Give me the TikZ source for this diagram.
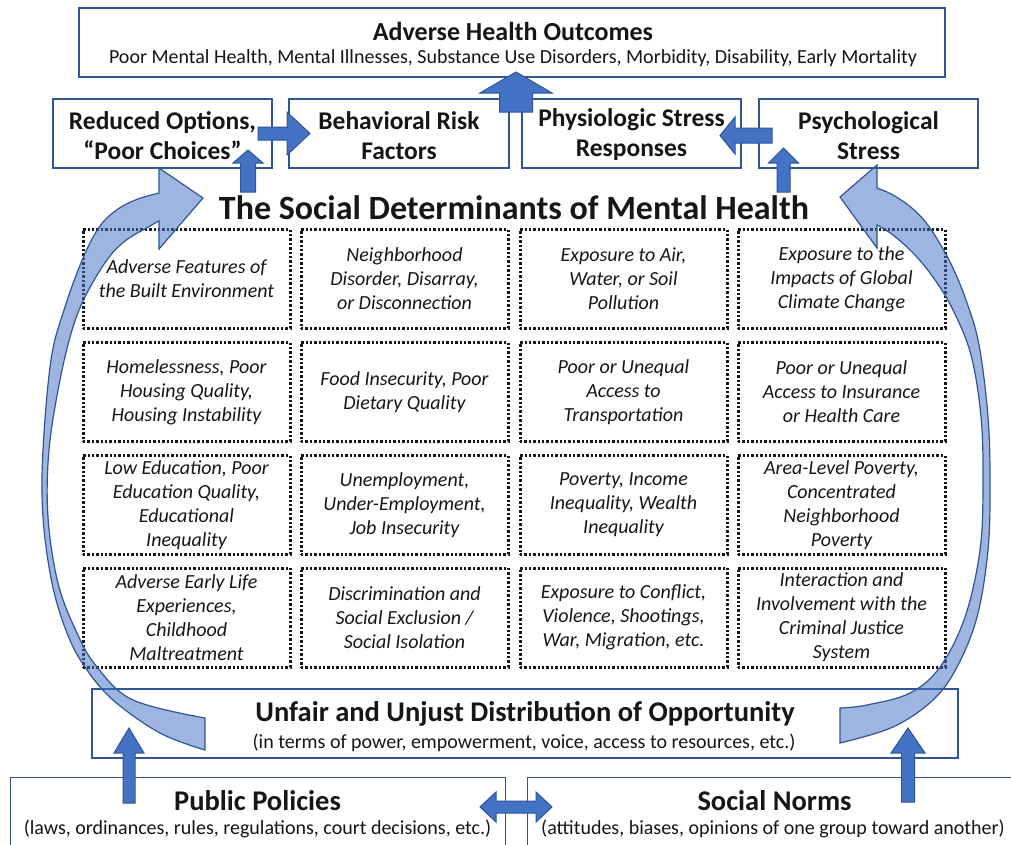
\documentclass[tikz,border=0pt]{standalone}
\usepackage{fontspec}
\setmainfont{Carlito}
\usetikzlibrary{calc}

\definecolor{boxline}{RGB}{47,85,151}
\definecolor{arrowblue}{RGB}{68,114,196}
\definecolor{arrowline}{RGB}{47,85,151}
\definecolor{ink}{RGB}{22,22,22}

\newcommand\detfont{\fontsize{20}{24}\selectfont\itshape}
\newcommand\headfont{\fontsize{25.5}{30}\selectfont\bfseries}
\newcommand\outheadfont{\fontsize{26}{30}\selectfont\bfseries}
\newcommand\bigheadfont{\fontsize{28.5}{32}\selectfont\bfseries}
\newcommand\subfont{\fontsize{20}{24}\selectfont}

% straight block arrow: #1 tail, #2 tip, #3 shaft half width, #4 head half width, #5 head length
\newcommand\blockarrow[5]{%
  \coordinate (ba-b) at ($(#2)!#5!(#1)$);
  \filldraw[barrow] ($(#1)!#3!-90:(#2)$) -- ($(ba-b)!#3!90:(#1)$) -- ($(ba-b)!#4!90:(#1)$)
    -- (#2) -- ($(ba-b)!#4!-90:(#1)$) -- ($(ba-b)!#3!-90:(#1)$) -- ($(#1)!#3!90:(#2)$) -- cycle;
}
% two-headed block arrow: #1 and #2 tips, #3 shaft half width, #4 head half width, #5 head length
\newcommand\twoheadarrow[5]{%
  \coordinate (ba-l) at ($(#1)!#5!(#2)$);
  \coordinate (ba-r) at ($(#2)!#5!(#1)$);
  \filldraw[barrow] (#1) -- ($(ba-l)!#4!90:(#2)$) -- ($(ba-l)!#3!90:(#2)$) -- ($(ba-r)!#3!-90:(#1)$)
    -- ($(ba-r)!#4!-90:(#1)$) -- (#2) -- ($(ba-r)!#4!90:(#1)$) -- ($(ba-r)!#3!90:(#1)$)
    -- ($(ba-l)!#3!-90:(#2)$) -- ($(ba-l)!#4!-90:(#2)$) -- cycle;
}

\tikzset{
  bluebox/.style={draw=boxline, line width=1.4pt, fill=white, inner sep=0pt},
  factor/.style={bluebox, minimum width=219pt, minimum height=69pt},
  factortext/.style={inner sep=0pt, align=center, font=\headfont, text=ink},
  detbox/.style={draw=ink, line width=3pt, dash pattern=on 2.4pt off 2pt, minimum width=207pt,
    minimum height=99pt, inner sep=0pt, align=center, font=\detfont, text=ink},
  label/.style={inner sep=0pt, text=ink},
  barrow/.style={fill=arrowblue, draw=arrowline, line width=1pt, line join=miter},
  curvearrow/.style={fill=arrowblue, fill opacity=0.52, draw=arrowline, draw opacity=1, line width=1.2pt, line join=miter},
}

\begin{document}
\begin{tikzpicture}[x=1pt, y=-1pt]
\useasboundingbox (0,0) rectangle (1011,844);
\clip (0,0) rectangle (1011,844);

% outcomes
\node[bluebox, minimum width=866pt, minimum height=69pt] (outcomes) at (512,42.5) {};
\node[label, font=\outheadfont] (outT) at (513,31) {Adverse Health Outcomes};
\node[label, font=\subfont] (outS) at (513,58) {Poor Mental Health, Mental Illnesses, Substance Use Disorders, Morbidity, Disability, Early Mortality};

% pathways
\node[factor] (reduced) at (162.5,133.5) {};
\node[factor, minimum width=220pt] (behav) at (399,133.5) {};
\node[factor] (physio) at (631.5,133.5) {};
\node[factor] (psych) at (868.5,133.5) {};
\node[factortext] (reducedT) at (162.5,136) {Reduced Options,\\``Poor Choices''};
\node[factortext] (behavT) at (399,136) {Behavioral Risk\\Factors};
\node[factortext] (physioT) at (631.5,135) {Physiologic Stress\\Responses};
\node[factortext] (psychT) at (868.5,136) {Psychological\\Stress};

% heading
\node[label, font=\fontsize{34}{38}\selectfont\bfseries] (title) at (514,208) {The Social Determinants of Mental Health};

% determinants grid
\node[detbox] (d11) at (186.5,279) {Adverse Features of\\the Built Environment};
\node[detbox] (d12) at (404.5,279) {Neighborhood\\Disorder, Disarray,\\or Disconnection};
\node[detbox] (d13) at (623.5,279) {Exposure to Air,\\Water, or Soil\\Pollution};
\node[detbox] (d14) at (841.5,279) {Exposure to the\\Impacts of Global\\Climate Change};

\node[detbox] (d21) at (186.5,392) {Homelessness, Poor\\Housing Quality,\\Housing Instability};
\node[detbox] (d22) at (404.5,392) {Food Insecurity, Poor\\Dietary Quality};
\node[detbox] (d23) at (623.5,392) {Poor or Unequal\\Access to\\Transportation};
\node[detbox] (d24) at (841.5,392) {Poor or Unequal\\Access to Insurance\\or Health Care};

\node[detbox] (d31) at (186.5,505) {Low Education, Poor\\Education Quality,\\Educational\\Inequality};
\node[detbox] (d32) at (404.5,505) {Unemployment,\\Under-Employment,\\Job Insecurity};
\node[detbox] (d33) at (623.5,505) {Poverty, Income\\Inequality, Wealth\\Inequality};
\node[detbox] (d34) at (841.5,505) {Area-Level Poverty,\\Concentrated\\Neighborhood\\Poverty};

\node[detbox] (d41) at (186.5,617.5) {Adverse Early Life\\Experiences,\\Childhood\\Maltreatment};
\node[detbox] (d42) at (404.5,617.5) {Discrimination and\\Social Exclusion /\\Social Isolation};
\node[detbox] (d43) at (623.5,617.5) {Exposure to Conflict,\\Violence, Shootings,\\War, Migration, etc.};
\node[detbox] (d44) at (841.5,617.5) {Interaction and\\Involvement with the\\Criminal Justice\\System};

% distribution of opportunity
\node[bluebox, minimum width=866pt, minimum height=69pt] (unfair) at (525,723.5) {};
\node[label, font=\bigheadfont] (unfT) at (525,714) {Unfair and Unjust Distribution of Opportunity};
\node[label, font=\subfont] (unfS) at (524,743) {(in terms of power, empowerment, voice, access to resources, etc.)};

% policies and norms
\node[bluebox, minimum width=495pt, minimum height=90pt, anchor=north west] (policies) at (10,777) {};
\node[label, font=\bigheadfont] (polT) at (257.5,801) {Public Policies};
\node[label, font=\subfont] (polS) at (257.5,829) {(laws, ordinances, rules, regulations, court decisions, etc.)};
\node[bluebox, minimum width=500pt, minimum height=90pt, anchor=north west] (norms) at (527,777) {};
\node[label, font=\bigheadfont] (normT) at (774.5,801) {Social Norms};
\node[label, font=\subfont] (normS) at (773,829) {(attitudes, biases, opinions of one group toward another)};

% straight block arrows
\coordinate (a1t) at (516,112);   \coordinate (a1h) at (516,72);
\blockarrow{a1t}{a1h}{16.5pt}{36pt}{21pt}
\coordinate (a2t) at (258,133.5); \coordinate (a2h) at (310,133.5);
\blockarrow{a2t}{a2h}{6.5pt}{21.5pt}{23pt}
\coordinate (a3t) at (248,192);   \coordinate (a3h) at (248,150);
\blockarrow{a3t}{a3h}{7.5pt}{15pt}{13pt}
\coordinate (a4t) at (772,135.5); \coordinate (a4h) at (720,135.5);
\blockarrow{a4t}{a4h}{7.5pt}{18.5pt}{15pt}
\coordinate (a5t) at (783.5,192); \coordinate (a5h) at (783.5,148);
\blockarrow{a5t}{a5h}{6.5pt}{15pt}{15pt}
\coordinate (a6t) at (129,803);   \coordinate (a6h) at (129,728);
\blockarrow{a6t}{a6h}{6pt}{15pt}{25pt}
\coordinate (a7t) at (908,802);   \coordinate (a7h) at (908,728);
\blockarrow{a7t}{a7h}{6.5pt}{17pt}{25pt}
\coordinate (a8l) at (480,807);   \coordinate (a8r) at (552,807);
\twoheadarrow{a8l}{a8r}{6pt}{15pt}{16pt}

% curved arrows from the distribution of opportunity
\filldraw[curvearrow] (205,718) -- plot[smooth, tension=0.6] coordinates {(205,718) (133,700) (97,667) (77,633) (58,583) (48,517) (49,450) (60,380) (73,327) (87,293) (107,260) (125,241) (150,226) (159,221)}
  -- (159,249) -- (203,198) -- (159,168) -- (159,193)
  -- plot[smooth, tension=0.6] coordinates {(159,193) (138,199) (118,209) (100,226) (83,258) (64,310) (51,360) (43,450) (43,517) (52,583) (67,633) (85,667) (113,700) (160,733) (205,750)}
  -- cycle;
\filldraw[curvearrow] (840,708) -- plot[smooth, tension=0.6] coordinates {(840,708) (867,705) (910,693) (940,667) (965,617) (980,550) (983,483) (981,417) (971,355) (953,310) (935,280) (915,255) (893,235) (877,225)}
  -- (877,248) -- (840,197) -- (877,165) -- (877,188)
  -- plot[smooth, tension=0.6] coordinates {(877,188) (893,195) (913,209) (930,228) (950,262) (966,300) (979,345) (988,417) (990,483) (988,550) (977,617) (957,667) (933,700) (893,727) (840,743)}
  -- cycle;
\end{tikzpicture}
\end{document}
